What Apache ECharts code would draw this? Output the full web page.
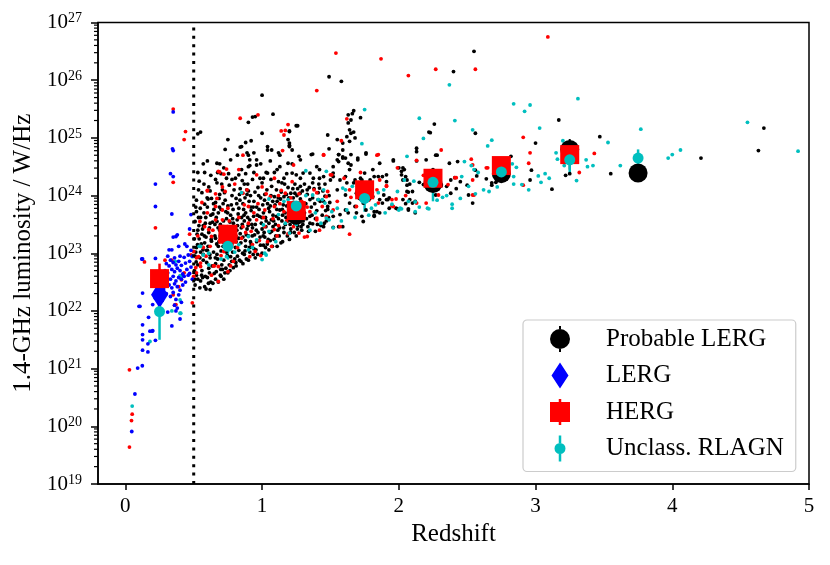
<!DOCTYPE html>
<html><head><meta charset="utf-8">
<script src="https://cdn.jsdelivr.net/npm/echarts@6/dist/echarts.min.js"></script>
<style>html,body{margin:0;padding:0;background:#fff}#c{width:830px;height:565px}</style>
</head><body><div id="c"></div>
<script>
// All individual points: [redshift, log10(L_1.4GHz / W Hz^-1)]
const probLergPts = [
[0.51,22.45],[0.52,22.62],[0.53,22.80],[0.51,22.95],[0.52,23.10],[0.54,23.25],[0.53,23.40],[0.51,23.55],[0.52,23.72],[0.55,22.52],[0.56,22.70],[0.57,22.88],[0.55,23.02],[0.58,23.18],[0.56,23.33],[0.57,23.48],[0.55,23.62],[0.58,23.85],[0.56,24.05],[0.54,24.25],[0.59,22.38],[0.60,22.58],[0.61,22.74],[0.62,22.92],[0.60,23.05],[0.63,23.21],[0.61,23.36],[0.62,23.52],[0.64,23.68],[0.60,23.80],[0.63,23.95],[0.61,24.15],[0.64,22.48],[0.65,22.65],[0.58,22.42],[0.62,22.37],[0.66,22.55],[0.53,22.55],[0.57,22.98],[0.59,23.28],[0.52,23.92],[0.58,24.40],[0.60,24.60],
[0.66,22.82],[0.67,22.98],[0.68,23.12],[0.66,23.26],[0.69,23.40],[0.67,23.55],[0.68,23.70],[0.66,23.88],[0.69,24.02],[0.67,24.22],[0.70,22.60],[0.71,22.72],[0.72,22.88],[0.70,23.04],[0.73,23.18],[0.71,23.32],[0.72,23.46],[0.74,23.60],[0.70,23.76],[0.73,23.92],[0.71,24.10],[0.74,24.30],[0.75,22.66],[0.76,22.80],[0.77,22.94],[0.75,23.08],[0.78,23.22],[0.76,23.38],[0.79,23.52],[0.77,23.66],[0.75,23.82],[0.78,24.00],[0.76,24.18],[0.79,22.75],[0.80,22.90],[0.68,22.50],[0.72,22.55],[0.69,24.55],[0.77,24.62],[0.73,24.80],
[0.81,22.78],[0.82,22.95],[0.83,23.05],[0.81,23.20],[0.84,23.34],[0.82,23.48],[0.85,23.62],[0.83,23.78],[0.81,23.95],[0.84,24.12],[0.86,22.82],[0.87,22.98],[0.88,23.12],[0.86,23.28],[0.89,23.42],[0.87,23.56],[0.88,23.70],[0.86,23.86],[0.89,24.02],[0.87,24.20],[0.90,22.88],[0.91,23.02],[0.92,23.16],[0.90,23.30],[0.93,23.44],[0.91,23.58],[0.92,23.74],[0.94,23.90],[0.90,24.08],[0.93,24.28],[0.95,22.92],[0.94,23.08],[0.85,24.45],[0.91,24.52],[0.88,24.38],[0.96,24.62],[0.82,24.70],[0.92,24.95],
[0.96,23.20],[0.97,23.36],[0.95,23.50],[0.98,23.64],[0.96,23.80],[0.99,23.96],[0.97,24.14],[1.00,23.00],[1.01,23.14],[1.02,23.28],[1.00,23.42],[1.03,23.56],[1.01,23.70],[1.04,23.86],[1.02,24.02],[1.00,24.22],[1.05,23.06],[1.06,23.22],[1.07,23.38],[1.05,23.52],[1.08,23.66],[1.06,23.82],[1.09,23.98],[1.07,24.16],[1.10,23.30],[1.08,23.46],[1.03,24.40],[0.99,24.55],[1.06,24.60],[1.04,24.85],
[1.11,23.12],[1.12,23.60],[1.13,23.75],[1.11,23.90],[1.14,24.06],[1.12,24.24],[1.15,23.20],[1.16,23.36],[1.17,23.50],[1.15,23.66],[1.18,23.82],[1.16,23.98],[1.19,24.14],[1.20,23.24],[1.21,23.42],[1.22,23.58],[1.20,23.72],[1.23,23.88],[1.21,24.04],[1.24,24.20],[1.25,23.30],[1.26,23.48],[1.27,23.62],[1.25,23.78],[1.28,23.94],[1.26,24.12],[1.29,23.40],[1.30,23.56],[1.28,24.30],[1.18,24.38],[1.13,24.50],[1.22,24.55],
[1.31,23.70],[1.32,23.86],[1.33,24.02],[1.31,24.20],[1.34,23.38],[1.35,23.52],[1.36,23.80],[1.37,23.96],[1.38,24.12],[1.39,23.60],[1.40,23.74],[1.41,24.05],[1.43,23.48],[1.44,23.66],[1.45,23.90],[1.46,24.20],[1.47,23.56],[1.48,23.76],[1.49,24.00],[1.42,24.30],
[0.505,22.70],[0.515,23.02],[0.525,23.33],[0.535,23.62],[0.545,22.92],[0.555,23.16],[0.565,23.42],[0.575,23.70],[0.585,22.60],[0.595,22.84],[0.605,23.12],[0.615,23.44],[0.625,23.66],[0.635,22.78],[0.645,23.02],[0.655,23.30],[0.545,22.40],[0.565,22.58],[0.585,23.52],[0.605,23.94],[0.625,22.50],[0.645,23.86],[0.515,23.80],[0.535,24.10],[0.575,24.20],[0.625,24.35],[0.505,23.25],[0.655,23.50],[0.595,23.05],[0.615,22.66],
[0.665,22.68],[0.675,22.90],[0.685,23.20],[0.695,23.50],[0.705,22.80],[0.715,23.12],[0.725,23.38],[0.735,23.72],[0.745,22.96],[0.755,23.26],[0.765,23.54],[0.775,23.84],[0.785,23.02],[0.795,23.36],[0.665,23.62],[0.685,23.95],[0.705,24.20],[0.725,24.05],[0.745,23.46],[0.765,22.70],[0.785,23.60],[0.695,22.62],[0.735,22.74],[0.775,23.12],[0.795,24.10],[0.715,23.86],[0.755,24.38],[0.675,24.40],
[0.805,23.10],[0.815,23.40],[0.825,23.68],[0.835,22.88],[0.845,23.18],[0.855,23.50],[0.865,23.76],[0.875,23.04],[0.885,23.32],[0.895,23.62],[0.905,23.90],[0.915,23.20],[0.925,23.50],[0.935,23.80],[0.945,23.32],[0.815,23.86],[0.835,24.02],[0.855,24.26],[0.875,23.96],[0.895,24.20],[0.915,24.00],[0.935,22.98],[0.805,24.30],[0.845,22.86],[0.885,22.90],
[0.955,23.06],[0.965,23.66],[0.975,24.00],[0.985,23.28],[0.995,23.52],[1.005,23.84],[1.015,23.36],[1.025,23.62],[1.035,24.10],[1.045,23.24],[1.055,23.72],[1.065,24.00],[1.075,23.12],[1.085,23.56],[1.095,23.84],[1.105,24.10],[1.115,23.40],[1.125,23.30],[1.135,23.94],[1.145,23.56],[0.985,24.30],[1.025,23.10],[1.065,24.28],[1.105,23.64],[1.145,24.22],
[1.155,23.84],[1.165,24.20],[1.175,23.62],[1.185,23.30],[1.195,23.96],[1.205,23.50],[1.215,23.80],[1.225,24.12],[1.235,23.36],[1.245,23.68],[1.255,24.00],[1.265,23.56],[1.275,23.84],[1.285,23.46],[1.295,24.08],[1.305,23.82],[1.325,23.60],[1.345,24.14],[1.365,23.66],[1.385,23.86],[1.405,23.50],[1.425,23.90],[1.445,24.08],[1.465,23.74],[1.485,23.62],[1.335,23.46],[1.375,24.30],[1.415,24.20],[1.455,23.52],[1.495,23.88],
[0.508,22.55],[0.518,22.85],[0.528,23.15],[0.538,23.48],[0.548,23.78],[0.558,22.62],[0.568,23.06],[0.578,23.30],[0.588,23.62],[0.598,23.96],[0.608,22.48],[0.618,22.98],[0.628,23.24],[0.638,23.54],[0.648,23.76],[0.658,22.92],[0.668,23.16],[0.678,23.44],[0.688,23.80],[0.698,22.72],[0.708,23.28],[0.718,23.56],[0.728,22.66],[0.738,23.02],[0.748,23.70],[0.758,23.14],[0.768,23.44],[0.778,22.86],[0.788,23.76],[0.798,23.22],[0.808,22.84],[0.818,23.58],[0.828,23.26],[0.838,23.92],[0.848,23.44],[0.858,23.00],[0.868,23.66],[0.878,23.22],[0.888,24.10],[0.898,23.48],[0.908,23.10],[0.918,23.80],[0.928,23.30],[0.938,23.64],[0.948,24.06],[0.958,23.40],[0.968,22.98],[0.978,23.76],[0.988,23.14],[0.998,23.62],[1.008,23.30],[1.018,23.92],[1.028,23.46],[1.038,23.16],[1.048,23.78],[1.058,23.36],[1.068,23.58],[1.078,23.90],[1.088,23.24],[1.098,23.50],[1.108,23.76],[1.118,23.96],[1.128,23.44],[1.138,23.18],[1.148,23.76],[1.158,23.44],[1.168,23.70],[1.178,24.02],[1.188,23.56],[1.198,23.84],[1.208,23.36],[1.218,23.66],[1.228,23.96],[1.238,23.52],[1.248,23.86],[1.258,23.42],[1.268,23.74],[1.278,24.04],[1.288,23.66],[1.298,23.50],[0.53,24.40],[0.57,24.55],[0.62,24.08],[0.66,24.28],[0.70,24.38],[0.78,24.28],[0.83,24.36],[0.94,24.40],[1.01,24.30],[1.09,24.40],[1.16,24.30],[1.25,24.36],
[0.88,24.92],[0.84,24.84],[1.04,24.79],[0.94,24.74],[0.90,24.70],[1.37,24.72],[1.13,24.70],[0.90,24.50],[1.04,24.39],[1.11,24.45],[1.22,24.39],[1.42,24.45],[0.85,24.85],[0.89,24.74],[0.91,24.62],[0.96,24.53],[0.67,24.56],[0.72,24.48],[1.07,24.79],[1.12,24.74],[1.20,24.85],[1.27,24.68],[1.30,24.39],[1.19,24.56],[1.56,24.71],[1.59,24.65],[0.93,25.36],[0.95,25.37],[0.90,25.27],[1.00,25.08],[1.20,25.12],[1.26,25.21],[1.08,25.41],[0.75,24.97],[1.19,24.97],[1.20,24.87],[1.55,24.97],[1.59,24.91],[0.53,25.07],[0.55,25.10],[1.00,25.74],[1.49,26.06],[1.58,25.98],[1.48,25.05],[1.49,24.81],
[1.67,25.47],[1.63,25.40],[1.65,25.31],[1.63,25.26],[1.64,25.14],[1.65,25.08],[1.62,25.02],[1.64,24.94],[1.59,24.79],[1.56,24.71],[1.61,24.65],[1.55,24.62],[1.63,24.56],[1.70,24.62],[1.76,24.74],[1.65,24.53],[1.64,24.45],[1.61,24.33],[1.52,24.39],[1.50,24.27],[1.45,24.33],[1.40,24.50],[1.36,24.71],[1.25,25.21],[1.20,25.11],[1.20,24.91],[1.22,24.79],[1.28,24.62],[1.35,24.39],[1.37,24.22],[1.33,24.10],[1.28,24.16],[1.24,24.04],[1.42,24.13],[1.46,23.99],[1.41,23.93],[1.35,23.93],[1.28,23.87],[1.30,23.75],[1.35,23.64],[1.37,23.51],[1.39,23.38],[1.45,23.46],[1.48,23.81],[1.52,23.64],[1.57,23.67],[1.61,23.75],[1.64,23.87],[1.69,23.70],[1.73,23.64],[1.76,23.75],[1.84,23.72],[1.86,23.93],[1.82,23.64],[1.88,24.33],[1.91,24.36],[1.93,23.96],[2.02,24.42],[2.03,24.27],[2.06,24.07],[2.08,23.93],[2.07,23.75],[2.12,23.90],[2.12,23.70],[1.76,23.98],[1.79,24.10],[1.72,24.01],[1.70,24.19],[1.68,24.27],[1.73,24.27],[1.82,24.33],
[1.72,25.35],[1.66,25.42],[1.68,25.00],[1.67,25.10],
[2.37,24.56],[2.38,24.27],[2.35,24.16],[2.31,24.19],[2.27,24.01],[2.23,24.24],[2.18,24.19],[2.08,24.20],[2.06,24.27],[2.05,23.86],[2.10,23.87],[1.98,23.78],[1.93,23.78],[1.96,24.62],[2.04,24.45],[2.02,24.36],[2.13,24.76],[1.86,24.56],[1.82,23.66],[1.74,23.55],[1.59,23.46],[1.56,23.46],[1.52,23.45],[1.76,24.72],[1.70,24.65],[1.65,24.71],[1.59,24.67],[1.56,24.59],[1.52,24.50],[1.81,24.45],[1.85,24.33],[1.91,24.24],[1.79,24.27],[1.75,24.39],[1.72,24.30],[1.67,24.22],[1.62,24.22],[1.57,24.27],[1.52,24.33],[1.55,24.10],[1.61,24.01],[1.69,24.04],[1.74,23.87],[1.68,23.81],[1.63,23.70],[1.82,23.72],[1.86,23.70],[1.81,23.98],[1.89,24.01],[1.92,23.93],
[2.07,24.06],[2.06,24.18],[2.03,23.93],[1.99,23.77],[2.07,23.77],[1.91,23.93],[1.88,23.87],[1.96,24.60],[2.00,24.48],[2.03,24.48],[2.05,24.33],[2.13,24.82],[2.13,24.60],[2.27,24.70],[2.10,24.07],[2.15,24.23],[2.31,24.17],[2.43,24.59],[2.50,24.18],[2.45,24.24],[2.42,24.12],[2.38,24.04],[2.41,24.31],
[2.26,25.24],[2.22,25.10],[2.28,24.70],[2.23,25.09],[2.55,26.50],[2.40,26.15],[2.56,25.08],[3.17,25.31],[4.67,25.17],[4.63,24.78],[4.21,24.65],[3.47,25.02],[3.55,24.38],[3.22,24.35],[3.25,24.38],[3.12,24.11],[3.00,24.91],[2.97,24.44],[2.96,24.27],[2.82,24.68],[2.68,24.18],[2.71,24.23],[2.56,24.44],[2.57,24.34],[2.51,24.01],[2.54,23.87],[2.68,24.22],[2.64,24.29],[2.20,24.62],[2.25,24.45]
];
const lergPts = [
[0.35,25.45],[0.345,24.81],[0.35,24.78],[0.33,24.38],[0.35,24.33],[0.22,24.20],[0.22,23.81],[0.34,23.68],[0.48,23.67],[0.47,23.42],[0.38,23.32],[0.37,23.29],[0.35,23.28],[0.435,23.16],[0.45,23.12],[0.32,23.06],[0.34,23.06],[0.39,23.12],[0.12,22.90],[0.22,22.91],[0.126,22.90],
[0.31,22.95],[0.33,22.88],[0.36,22.92],[0.40,22.95],[0.43,22.93],[0.46,22.97],[0.30,22.82],[0.32,22.78],[0.35,22.84],[0.37,22.80],[0.39,22.86],[0.41,22.79],[0.44,22.83],[0.47,22.86],[0.29,22.70],[0.31,22.66],[0.34,22.72],[0.36,22.68],[0.38,22.74],[0.40,22.70],[0.42,22.64],[0.45,22.72],[0.48,22.76],[0.30,22.58],[0.33,22.55],[0.35,22.60],[0.37,22.52],[0.39,22.58],[0.41,22.55],[0.43,22.60],[0.46,22.62],[0.32,22.45],[0.34,22.40],[0.36,22.47],[0.38,22.42],[0.40,22.36],[0.42,22.45],[0.44,22.50],[0.30,22.30],[0.33,22.25],[0.35,22.32],[0.37,22.20],[0.39,22.28],[0.41,22.15],[0.28,22.38],[0.27,22.18],[0.36,22.10],[0.38,22.05],
[0.10,22.08],[0.126,22.31],[0.22,22.22],[0.20,22.11],[0.34,21.74],[0.40,21.86],[0.37,22.00],[0.31,21.98],[0.126,21.50],[0.126,21.59],[0.126,21.76],[0.18,21.65],[0.20,21.66],[0.22,21.49],[0.165,21.43],[0.165,21.29],[0.126,21.32],[0.124,21.05],[0.09,21.01],[0.07,20.56],[0.047,19.91],[0.49,22.95],[0.48,23.05],[0.47,22.65],[0.49,22.55],[0.107,22.08],[0.17,21.89],[0.197,21.65]
];
const hergPts = [
[1.54,26.47],[1.87,26.37],[2.27,26.19],[2.07,26.08],[1.40,25.82],[3.09,26.75],[2.56,26.19],[0.35,25.50],[0.84,25.34],[0.97,25.40],[0.43,24.97],[0.44,25.11],[1.14,25.12],[1.16,25.05],[1.19,25.23],[1.17,25.13],[1.62,25.33],[2.31,24.79],[0.35,24.23],[0.22,23.44],[0.14,22.85],[0.29,22.88],[0.34,22.88],[0.60,24.09],[0.47,23.33],[0.49,22.14],[0.03,20.98],[0.05,20.21],[0.045,20.10],[0.03,19.64],[0.36,22.10],[2.91,25.01],[2.96,24.74],[2.95,24.56],[2.91,24.18],[2.65,24.48],[2.53,24.63],[2.54,24.53],[2.54,24.27],[2.55,24.01],[2.41,24.31],[2.29,24.01],[2.20,23.87],[3.43,24.73],[3.32,24.40],[1.64,23.33],[1.95,23.82],[1.33,23.29],
[1.58,24.95],[1.45,24.71],[1.84,24.70],[1.91,24.17],[1.99,24.48],[1.95,23.93],[1.98,23.94],[1.65,23.97],[1.64,24.10],[1.50,24.36],[1.47,23.98],[1.40,23.61],[1.44,23.81],[1.23,24.53],[1.22,24.24],[1.52,23.75],[1.69,23.81],[1.85,23.87],
[0.86,24.70],[1.45,24.70],[1.15,24.78],[0.68,24.42],[0.69,24.41],[0.72,24.37],[0.74,24.46],[0.83,24.45],[0.96,24.36],[1.09,24.30],[1.51,24.36],[0.60,24.08],[0.66,24.03],[0.73,24.07],[0.86,24.04],[0.89,24.10],[1.03,24.03],[1.06,23.98],[1.14,24.09],[1.17,24.04],[1.27,24.03],[1.40,24.05],[1.48,24.07],[0.66,23.81],[0.71,23.75],[0.75,23.78],[0.90,23.81],[1.02,23.75],[1.09,23.81],[1.24,23.72],[1.30,23.64],[1.40,23.58],[1.47,23.64],[0.58,23.46],[0.61,23.41],[0.66,23.58],[0.71,23.58],[0.86,23.46],[0.90,23.52],[0.96,23.58],[1.02,23.46],[1.09,23.41],[1.12,23.48],[1.19,23.34],[1.27,23.35],[1.31,23.28],[0.85,23.26],[0.93,23.15],[0.78,23.15],[0.82,23.10],[0.95,23.03],[0.99,22.96],[0.63,23.29],[0.62,23.12],[0.535,22.94],[0.55,22.77],[0.65,22.78],[0.68,22.77],[0.75,22.68],[0.72,23.03],[0.50,23.03],[0.52,22.66],[0.645,22.78],[0.68,22.51],[0.52,22.92],[0.48,22.97],[0.50,22.60],[0.55,22.83],[0.41,22.54],[0.39,22.42],[0.43,22.66],[0.35,22.28],[0.37,22.11],
[1.85,24.71],[2.13,24.61],[2.42,24.31],[2.36,24.19],[1.96,23.81],[2.13,23.87],[1.84,24.10],[1.57,23.46],[1.86,24.27],[2.54,24.01],[2.64,24.48],[1.91,24.16],
[0.57,23.10],[0.63,22.62],[0.69,23.22],[0.74,23.40],[0.79,22.86],[0.83,23.62],[0.88,23.36],[0.94,23.70],[0.98,23.22],[1.04,23.20],[1.08,23.60],[1.13,23.86],[1.18,23.56],[1.23,23.46],[1.29,23.90],[1.35,23.72],[1.42,23.40],[1.55,23.90],[1.60,24.30],[1.72,24.40],[1.78,23.92],[2.05,24.00],[2.18,24.35],[0.80,24.20],[0.60,23.70],[0.53,23.30],[0.67,23.95],[1.00,24.15],
[0.515,22.75],[0.545,23.55],[0.59,22.95],[0.64,23.40],[0.70,22.96],[0.76,23.56],[0.81,23.30],[0.87,23.84],[0.92,23.38],[0.97,23.86],[1.01,23.62],[1.07,23.12],[1.12,24.00],[1.16,23.72],[1.21,23.96],[1.26,23.58],[1.33,23.80],[1.38,24.10],[0.56,23.88],[0.71,24.15],[0.77,22.78],[0.91,22.94],[1.11,23.30]
];
const unclassPts = [
[2.37,25.92],[1.75,25.49],[1.73,24.90],[2.15,25.34],[2.18,24.99],[2.84,25.59],[2.96,25.57],[2.92,25.46],[3.31,25.68],[2.41,25.30],[2.54,25.14],[3.03,25.17],[3.77,25.15],[4.55,25.27],[4.92,24.77],[3.97,24.65],[4.00,24.71],[4.06,24.79],[3.62,24.52],[3.53,24.92],[3.37,24.62],[3.38,24.50],[3.42,24.52],[3.30,24.26],[3.15,24.74],[3.16,24.63],[3.21,24.52],[3.20,24.95],[3.02,24.34],[3.04,24.23],[3.07,24.38],[2.83,24.55],[2.86,24.49],[2.84,24.33],[2.84,24.20],[2.90,24.19],[2.68,24.96],[2.65,24.86],[2.66,24.07],[2.55,24.45],[2.53,24.52],[2.58,24.40],[2.51,24.16],[2.56,24.03],[2.39,23.85],[2.39,23.78],[2.48,24.59],[2.46,24.33],[2.32,23.97],[2.22,23.77],[2.12,23.89],[2.12,23.72],[2.00,23.75],[2.02,23.77],[2.21,23.78],[1.52,23.44],[0.05,20.35],[0.18,21.47],[0.405,21.96],
[1.32,24.43],[1.47,24.42],[1.41,23.93],[1.45,24.10],[1.59,24.13],[1.66,24.16],[1.55,23.78],[1.62,23.75],[1.80,23.78],[1.83,23.84],[1.85,24.05],[1.89,24.10],[2.01,23.78],[2.07,23.90],[2.04,24.27],[2.11,24.25],[2.06,24.68],[1.99,24.07],[1.47,23.61],[1.39,23.70],
[0.85,24.05],[1.05,23.94],[1.16,23.90],[1.19,23.93],[1.32,24.00],[1.44,23.93],[1.46,23.87],[1.51,23.72],[1.49,23.58],[1.12,23.67],[1.17,23.52],[1.01,23.49],[1.05,23.38],[0.90,23.29],[0.96,23.23],[0.83,23.15],[0.90,23.06],[1.00,22.89],[1.02,23.00],[0.57,22.97],[0.61,22.80],[0.74,22.94],[0.55,23.12],
[0.54,23.12],[0.49,22.94],[0.365,22.86],[0.41,22.60],[0.40,22.19],[1.03,22.97],[1.37,24.01],[1.61,24.10],[0.40,22.61],[0.40,21.96],[0.34,22.00],[0.61,23.00],
[1.25,23.50],[1.35,23.40],[1.43,23.52],[1.58,23.56],[1.68,23.62],[1.78,23.66],[1.90,23.70],[1.95,23.85],[2.15,23.80],[2.28,23.92],[2.35,24.00],[2.45,23.95],[2.62,24.10],[2.72,24.15],[2.78,24.30],[2.95,24.10],[3.10,24.30],[0.70,22.90],[0.80,23.02],[0.93,23.10],[1.10,23.20],[1.20,23.35]
];
// Binned medians: [redshift bin centre, log10 L, lower error end, upper error end]
const probLergBins = [[0.75,23.30,23.20,23.40],[1.25,23.66,23.58,23.74],[1.75,24.05,23.98,24.12],[2.25,24.21,24.12,24.30],[2.75,24.38,24.30,24.46],[3.25,24.80,24.45,24.98],[3.75,24.39,24.36,24.42]];
const lergBins = [[0.25,22.28,22.20,22.36]];
const hergBins = [[0.25,22.56,22.30,22.82],[0.75,23.33,23.25,23.42],[1.25,23.74,23.68,23.80],[1.75,24.10,24.05,24.15],[2.25,24.30,24.25,24.35],[2.75,24.52,24.47,24.57],[3.25,24.71,24.62,24.80]];
const unclassBins = [[0.25,21.99,21.50,22.40],[0.75,23.12,22.89,23.30],[1.25,23.82,23.75,23.90],[1.75,23.95,23.72,24.10],[2.25,24.23,23.90,24.35],[2.75,24.41,24.30,24.50],[3.25,24.62,24.39,24.75],[3.75,24.65,24.55,24.80]];
const cutZ = 0.5;
const xTicks = [0, 1, 2, 3, 4, 5];
const yDecades = [19, 20, 21, 22, 23, 24, 25, 26, 27];
const minorFactors = [2, 3, 4, 5, 6, 7, 8, 9];
const legendNames = ['Probable LERG', 'LERG', 'HERG', 'Unclass. RLAGN'];

const C = {black:'#000000', blue:'#0000ff', red:'#ff0000', cyan:'#00bfbf'};
const FONT = 'Liberation Serif';
const pw = v => Math.pow(10, v);
const pts = arr => arr.map(p => [p[0], pw(p[1])]);
const mid = arr => arr.map(p => [p[0], pw(p[1])]);
const err = arr => arr.map(p => [p[0], pw(p[2]), pw(p[3])]);
const minorData = [];
yDecades.slice(0, -1).forEach(d => minorFactors.forEach(f => minorData.push([-0.2, f * pw(d)])));

function errSeries(name, arr, color, w) {
  return {
    type: 'custom', name: name + '_err', data: err(arr), encode: {x: 0, y: [1, 2]}, silent: true,
    renderItem: (params, api) => {
      const a = api.coord([api.value(0), api.value(1)]);
      const b = api.coord([api.value(0), api.value(2)]);
      return {type: 'line', shape: {x1: a[0], y1: a[1], x2: b[0], y2: b[1]}, style: {stroke: color, lineWidth: w}};
    }
  };
}
function dots(name, arr, color) {
  return {type: 'scatter', name: name, data: pts(arr), symbol: 'circle', symbolSize: 3.8,
    itemStyle: {color: color, opacity: 1}, silent: true};
}

const chart = echarts.init(document.getElementById('c'), null, {renderer: 'canvas'});
chart.setOption({
  animation: false,
  backgroundColor: '#ffffff',
  grid: {left: 98, right: 21, top: 22.5, bottom: 81, show: true, borderColor: '#000', borderWidth: 1.5, outerBoundsMode: 'none', containLabel: false},
  xAxis: {
    type: 'value', min: -0.2, max: 5,
    name: 'Redshift', nameLocation: 'middle', nameGap: 38,
    nameTextStyle: {fontFamily: FONT, fontSize: 25, color: '#000'},
    axisLine: {show: true, onZero: false, lineStyle: {color: '#000', width: 1.5}},
    axisTick: {show: true, length: 6, lineStyle: {color: '#000', width: 1.5}, customValues: xTicks},
    axisLabel: {customValues: xTicks, margin: 12, fontFamily: FONT, fontSize: 21, color: '#000'},
    splitLine: {show: false}
  },
  yAxis: {
    type: 'log', logBase: 10, min: pw(yDecades[0]), max: pw(yDecades[yDecades.length - 1]), splitNumber: 8,
    name: '1.4-GHz luminosity / W/Hz', nameLocation: 'middle', nameGap: 61,
    nameTextStyle: {fontFamily: FONT, fontSize: 25, color: '#000'},
    axisLine: {show: true, onZero: false, lineStyle: {color: '#000', width: 1.5}},
    axisTick: {show: true, length: 7, lineStyle: {color: '#000', width: 1.5}},
    axisLabel: {
      margin: 16, showMinLabel: true, showMaxLabel: true,
      formatter: v => '{b|10}{s|' + Math.round(Math.log10(v)) + '}',
      rich: {
        b: {fontFamily: FONT, fontSize: 21, color: '#000', lineHeight: 22},
        s: {fontFamily: FONT, fontSize: 14, color: '#000', lineHeight: 14, verticalAlign: 'top'}
      }
    },
    splitLine: {show: false}
  },
  legend: {
    orient: 'vertical', left: 523, top: 320, itemWidth: 20, itemHeight: 26, itemGap: 10.5,
    padding: [6, 12, 10, 27], borderColor: '#cccccc', borderWidth: 1.2, borderRadius: 4,
    backgroundColor: 'rgba(255,255,255,0.8)', selectedMode: false,
    textStyle: {fontFamily: FONT, fontSize: 25, color: '#000', padding: [0, 0, 0, 31]},
    data: [
      {name: legendNames[0], icon: 'path://M0,13a10,10 0 1,0 20,0a10,10 0 1,0 -20,0z M9,0h2v3h-2z M9,23h2v3h-2z'},
      {name: legendNames[1], icon: 'path://M10,0L18.5,13L10,26L1.5,13z M0,13h0.01v0.01h-0.01z M19.99,13h0.01v0.01h-0.01z'},
      {name: legendNames[2], icon: 'path://M0,3h20v20h-20z M8.75,0h2.5v3h-2.5z M8.75,23h2.5v3h-2.5z'},
      {name: legendNames[3], icon: 'path://M4.5,13a5.5,5.5 0 1,0 11,0a5.5,5.5 0 1,0 -11,0z M8.75,0h2.5v7.5h-2.5z M8.75,18.5h2.5v7.5h-2.5z M0,13h0.01v0.01h-0.01z M19.99,13h0.01v0.01h-0.01z'}
    ]
  },
  series: [
    dots('pl_pts', probLergPts, C.black),
    dots('herg_pts', hergPts, C.red),
    dots('un_pts', unclassPts, C.cyan),
    dots('lerg_pts', lergPts, C.blue),
    {type: 'line', name: 'cut', data: [[cutZ, pw(yDecades[0])], [cutZ, pw(yDecades[yDecades.length - 1])]],
     symbol: 'none', silent: true, lineStyle: {color: '#000', width: 3, type: [3, 5.4]}},
    errSeries('pl', probLergBins, C.black, 2),
    {type: 'scatter', name: legendNames[0], data: mid(probLergBins), symbol: 'circle', symbolSize: 19, itemStyle: {color: C.black, opacity: 1}, silent: true},
    errSeries('lerg', lergBins, C.blue, 2),
    {type: 'scatter', name: legendNames[1], data: mid(lergBins), symbol: 'diamond', symbolSize: [17, 27], itemStyle: {color: C.blue, opacity: 1}, silent: true},
    errSeries('herg', hergBins, C.red, 2.5),
    {type: 'scatter', name: legendNames[2], data: mid(hergBins), symbol: 'rect', symbolSize: 19, itemStyle: {color: C.red, opacity: 1}, silent: true},
    errSeries('un', unclassBins, C.cyan, 2.5),
    {type: 'scatter', name: legendNames[3], data: mid(unclassBins), symbol: 'circle', symbolSize: 11, itemStyle: {color: C.cyan, opacity: 1}, silent: true},
    {type: 'custom', name: 'minorTicks', data: minorData, encode: {x: 0, y: 1}, silent: true, clip: false,
     renderItem: (params, api) => {
       const p = api.coord([api.value(0), api.value(1)]);
       return {type: 'line', shape: {x1: p[0] - 4, y1: p[1], x2: p[0], y2: p[1]}, style: {stroke: '#000', lineWidth: 1.2}};
     }}
  ]
});
</script>
</body></html>
